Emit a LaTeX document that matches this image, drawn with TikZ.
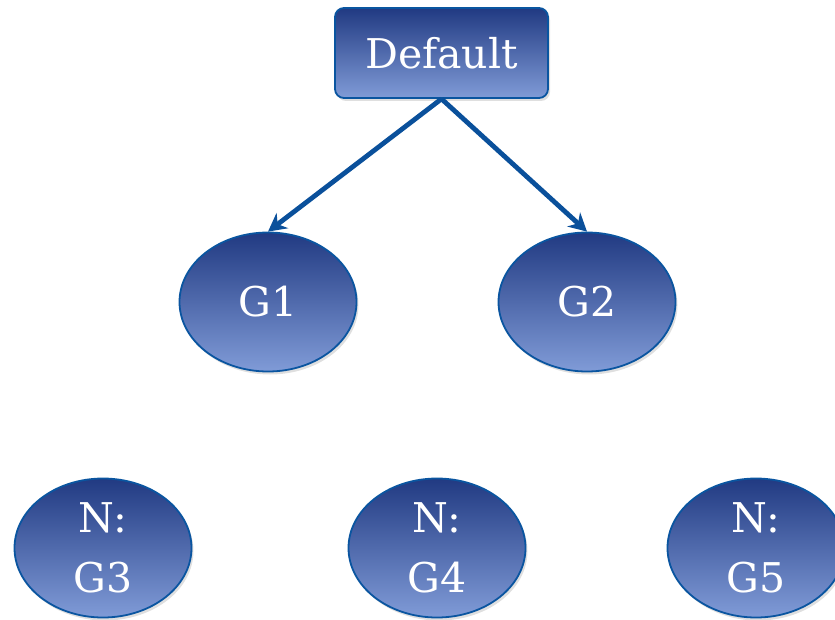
\documentclass[tikz,border=0pt]{standalone}
\usepackage{fontspec}
\setmainfont{DejaVu Serif}
\usetikzlibrary{shapes.geometric,arrows.meta,shadows}
\definecolor{topblue}{RGB}{33,58,130}
\definecolor{botblue}{RGB}{128,155,215}
\definecolor{edgeblue}{RGB}{10,85,160}
\definecolor{linkblue}{RGB}{10,80,155}
\tikzset{
  bubble/.style={draw=edgeblue, line width=1.8pt, top color=topblue, bottom color=botblue,
    text=white, font=\fontsize{41}{60}\selectfont, align=center,
    drop shadow={shadow xshift=2pt, shadow yshift=-3pt, opacity=0.25}},
  rootbox/.style={bubble, rectangle, rounded corners=9pt, minimum width=213pt, minimum height=90pt},
  groupnode/.style={bubble, ellipse, minimum width=177pt, minimum height=139pt, inner sep=0pt},
  link/.style={draw=linkblue, line width=4.8pt, -{Stealth[length=18pt,width=19pt]}}
}
\begin{document}
\begin{tikzpicture}[x=1pt,y=-1pt]
  \useasboundingbox (0,0) rectangle (835,620);
  \node[rootbox] (def) at (441.5,53) {Default};
  \node[groupnode] (g1) at (268,302) {G1};
  \node[groupnode] (g2) at (587,302) {G2};
  \node[groupnode] (g3) at (103,548) {N:\\G3};
  \node[groupnode] (g4) at (437,548) {N:\\G4};
  \node[groupnode] (g5) at (756,548) {N:\\G5};
  \draw[link] (def.south) -- (g1.north);
  \draw[link] (def.south) -- (g2.north);
\end{tikzpicture}
\end{document}
